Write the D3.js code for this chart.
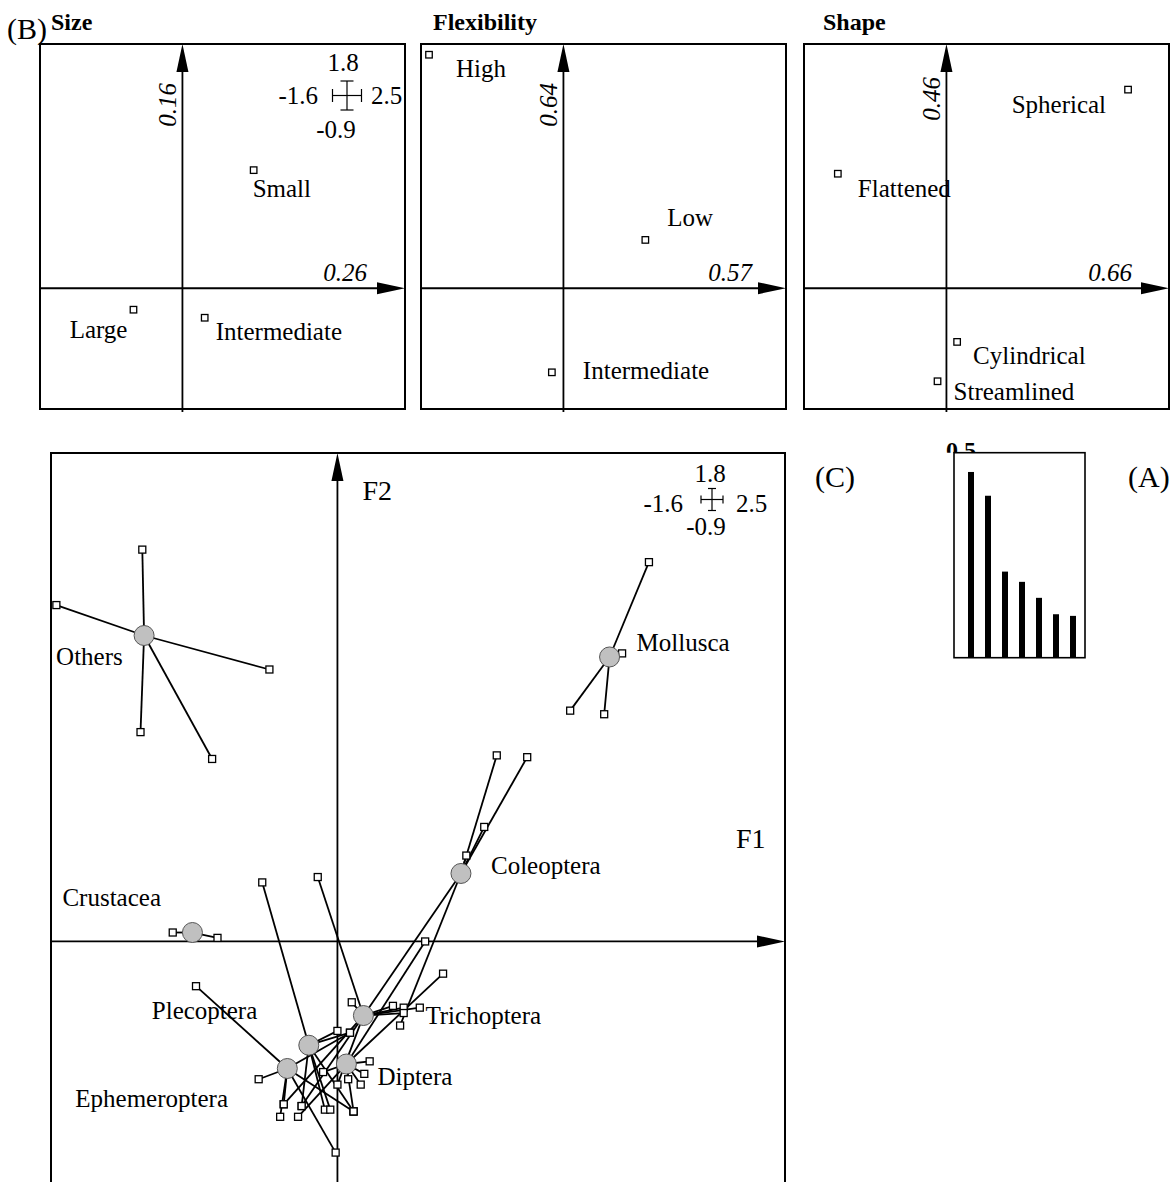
<!DOCTYPE html>
<html>
<head>
<meta charset="utf-8">
<script src="https://cdn.jsdelivr.net/npm/d3@7"></script>
<style>
  body { margin: 0; background: #fff; }
  svg { display: block; }
  text { font-family: "Liberation Serif", "Times New Roman", Times, serif; fill: #000; }
</style>
</head>
<body>
<svg id="fig" width="1176" height="1182"></svg>
<script>
// ---------------------------------------------------------------
// Data
// ---------------------------------------------------------------
// Limits of the factorial maps (F1 horizontal, F2 vertical)
const xLimits = [-1.6, 2.5];
const yLimits = [-1.35, 2.73];
// Range printed around the scale cross
const crossTop = "1.8", crossBottom = "-0.9", crossLeft = "-1.6", crossRight = "2.5";

// (B) trait modalities on F1 x F2
const traitNames = ["Size", "Flexibility", "Shape"];
const traitRatioF1 = ["0.26", "0.57", "0.66"];
const traitRatioF2 = ["0.16", "0.64", "0.46"];

const sizeModalities = ["Small", "Large", "Intermediate"];
const sizeF1 = [0.80, -0.55, 0.25];
const sizeF2 = [1.32, -0.24, -0.33];

const flexModalities = ["High", "Low", "Intermediate"];
const flexF1 = [-1.51, 0.92, -0.13];
const flexF2 = [2.61, 0.54, -0.94];

const shapeModalities = ["Spherical", "Flattened", "Cylindrical", "Streamlined"];
const shapeF1 = [2.04, -1.22, 0.12, -0.10];
const shapeF2 = [2.22, 1.28, -0.60, -1.04];

// (C) taxa grouped by higher taxon: group centres and taxa scores [F1, F2]
const groupNames = ["Others", "Mollusca", "Crustacea", "Coleoptera",
                    "Trichoptera", "Diptera", "Plecoptera", "Ephemeroptera"];
const groupCentreF1 = [-1.08, 1.52, -0.81, 0.69, 0.145, 0.05, -0.16, -0.28];
const groupCentreF2 = [1.71, 1.59, 0.05, 0.38, -0.414, -0.685, -0.58, -0.71];

const taxaOthers = [[-1.09, 2.19], [-1.57, 1.88], [-0.38, 1.52], [-1.10, 1.17], [-0.70, 1.02]];
const taxaMollusca = [[1.74, 2.12], [1.59, 1.61], [1.30, 1.29], [1.49, 1.27]];
const taxaCrustacea = [[-0.92, 0.05], [-0.67, 0.02]];
const taxaColeoptera = [[0.89, 1.04], [1.06, 1.03], [0.82, 0.64], [0.72, 0.48],
                        [0.35, -0.47], [-0.20, -0.92]];
const taxaTrichoptera = [[-0.11, 0.36], [0.08, -0.34], [0.31, -0.36], [0.37, -0.37],
                         [0.37, -0.40], [0.46, -0.37], [0.00, -0.80], [-0.30, -0.91]];
const taxaDiptera = [[0.59, -0.18], [0.49, 0.00], [0.18, -0.67], [0.15, -0.74],
                     [0.06, -0.77], [0.13, -0.80], [-0.08, -0.73], [-0.22, -0.98], [0.09, -0.95]];
const taxaPlecoptera = [[-0.42, 0.33], [0.00, -0.50], [0.07, -0.51], [-0.07, -0.94],
                        [-0.04, -0.94], [0.09, -0.95], [-0.20, -0.92]];
const taxaEphemeroptera = [[-0.79, -0.25], [-0.44, -0.77], [-0.30, -0.91], [-0.32, -0.98],
                           [-0.01, -1.18], [0.07, -0.51], [0.09, -0.95]];

// (A) eigenvalues
const eigenRanks = [1, 2, 3, 4, 5, 6, 7];
const eigenvalues = [0.453, 0.395, 0.210, 0.185, 0.146, 0.106, 0.102];
const eigenMaxLabel = "0.5";

// ---------------------------------------------------------------
// Layout
// ---------------------------------------------------------------
const panelLeft = [40, 421, 804];
const titleLeft = [51, 433, 823];
const panelTop = 44, panelSize = 365;
const ratioF2Offset = [39, 39, 33];   // distance of the vertical ratio text end from the top
const ratioF1Offset = [38, 34, 37];   // distance of the horizontal ratio text end from the right

// label offsets (px) from the marker, and anchor
const modalityLabelOffset = {
  "Size:Small": [-1, 27, "start"], "Size:Large": [-6, 28, "end"], "Size:Intermediate": [11, 22, "start"],
  "Flexibility:High": [27, 22, "start"], "Flexibility:Low": [22, -14, "start"],
  "Flexibility:Intermediate": [31, 7, "start"],
  "Shape:Spherical": [-22, 23, "end"], "Shape:Flattened": [20, 23, "start"],
  "Shape:Cylindrical": [16, 22, "start"], "Shape:Streamlined": [16, 19, "start"]
};
const groupLabelOffset = {
  Others: [-88, 29], Mollusca: [27, -6], Crustacea: [-130, -27], Coleoptera: [30, 1],
  Trichoptera: [62, 8], Diptera: [31, 21], Plecoptera: [-157, -26], Ephemeroptera: [-212, 39]
};

const main = {left: 51, top: 453, width: 734, height: 730};
const bars = {left: 954, top: 452.7, right: 1085, bottom: 657.7};

const svg = d3.select("#fig");
const ARROW_LEN = 28, ARROW_HALF = 6;

// draws the F1/F2 axes with arrowheads and the frame
function drawFrame(g, x, y, box, extendBelow) {
  const x0 = x(0), y0 = y(0);
  g.append("line")
    .attr("x1", box.left).attr("x2", box.right - ARROW_LEN + 2)
    .attr("y1", y0).attr("y2", y0)
    .attr("stroke", "#000").attr("stroke-width", 1.8);
  g.append("line")
    .attr("x1", x0).attr("x2", x0)
    .attr("y1", box.bottom + extendBelow).attr("y2", box.top + ARROW_LEN - 2)
    .attr("stroke", "#000").attr("stroke-width", 1.8);
  g.append("path")
    .attr("d", `M${box.right},${y0}L${box.right - ARROW_LEN},${y0 - ARROW_HALF}L${box.right - ARROW_LEN},${y0 + ARROW_HALF}Z`)
    .attr("fill", "#000");
  g.append("path")
    .attr("d", `M${x0},${box.top}L${x0 - ARROW_HALF},${box.top + ARROW_LEN}L${x0 + ARROW_HALF},${box.top + ARROW_LEN}Z`)
    .attr("fill", "#000");
  g.append("rect")
    .attr("x", box.left).attr("y", box.top)
    .attr("width", box.right - box.left).attr("height", box.bottom - box.top)
    .attr("fill", "none").attr("stroke", "#000").attr("stroke-width", 2);
}

// scale cross showing the ranges of the map
function drawCross(g, cx, cy, half, cap, lab) {
  const segs = [
    [cx - half, cy, cx + half, cy], [cx, cy - half, cx, cy + half],
    [cx - half, cy - cap, cx - half, cy + cap], [cx + half, cy - cap, cx + half, cy + cap],
    [cx - cap, cy - half, cx + cap, cy - half], [cx - cap, cy + half, cx + cap, cy + half]
  ];
  segs.forEach(d => g.append("line").attr("x1", d[0]).attr("y1", d[1]).attr("x2", d[2]).attr("y2", d[3])
    .attr("stroke", "#000").attr("stroke-width", 1.2));
  const fs = 25;
  g.append("text").attr("x", cx + lab.top[0]).attr("y", cy + lab.top[1]).attr("text-anchor", "middle")
    .attr("font-size", fs).text(crossTop);
  g.append("text").attr("x", cx + lab.bottom[0]).attr("y", cy + lab.bottom[1]).attr("text-anchor", "middle")
    .attr("font-size", fs).text(crossBottom);
  g.append("text").attr("x", cx + lab.left[0]).attr("y", cy + lab.left[1]).attr("text-anchor", "end")
    .attr("font-size", fs).text(crossLeft);
  g.append("text").attr("x", cx + lab.right[0]).attr("y", cy + lab.right[1]).attr("text-anchor", "start")
    .attr("font-size", fs).text(crossRight);
}

function squares(g, pts, x, y, size) {
  g.selectAll(null).data(pts).enter().append("rect")
    .attr("x", d => x(d[0]) - size / 2).attr("y", d => y(d[1]) - size / 2)
    .attr("width", size).attr("height", size)
    .attr("fill", "#fff").attr("stroke", "#000").attr("stroke-width", 1.3);
}

// ---------------------------------------------------------------
// (B) trait panels
// ---------------------------------------------------------------
svg.append("text").attr("x", 7).attr("y", 39).attr("font-size", 30).text("(B)");

const traitSets = [
  {labels: sizeModalities, f1: sizeF1, f2: sizeF2},
  {labels: flexModalities, f1: flexF1, f2: flexF2},
  {labels: shapeModalities, f1: shapeF1, f2: shapeF2}
];

traitSets.forEach((t, i) => {
  const left = panelLeft[i];
  const box = {left: left, top: panelTop, right: left + panelSize, bottom: panelTop + panelSize};
  const x = d3.scaleLinear().domain(xLimits).range([box.left, box.right]);
  const y = d3.scaleLinear().domain(yLimits).range([box.bottom, box.top]);
  const g = svg.append("g");

  g.append("text").attr("x", titleLeft[i]).attr("y", 30)
    .attr("font-size", 24).attr("font-weight", "bold").text(traitNames[i]);

  drawFrame(g, x, y, box, 3);

  g.append("text")
    .attr("transform", `translate(${x(0) - 6},${box.top + ratioF2Offset[i]}) rotate(-90)`)
    .attr("text-anchor", "end").attr("font-style", "italic").attr("font-size", 25)
    .text(traitRatioF2[i]);
  g.append("text")
    .attr("x", box.right - ratioF1Offset[i]).attr("y", y(0) - 7)
    .attr("text-anchor", "end").attr("font-style", "italic").attr("font-size", 25)
    .text(traitRatioF1[i]);

  const pts = t.labels.map((lab, k) => [t.f1[k], t.f2[k], lab]);
  squares(g, pts, x, y, 6.5);
  pts.forEach(p => {
    const off = modalityLabelOffset[traitNames[i] + ":" + p[2]];
    g.append("text").attr("x", x(p[0]) + off[0]).attr("y", y(p[1]) + off[1])
      .attr("text-anchor", off[2]).attr("font-size", 25).text(p[2]);
  });

  if (i === 0) drawCross(g, 347, 95.5, 14.5, 6.5,
    {top: [-4, -25], bottom: [-11, 42], left: [-29, 8], right: [24, 8]});
});

// ---------------------------------------------------------------
// (C) taxa map
// ---------------------------------------------------------------
const mbox = {left: main.left, top: main.top, right: main.left + main.width, bottom: main.top + main.height};
const mx = d3.scaleLinear().domain(xLimits).range([mbox.left, mbox.right]);
const my = d3.scaleLinear().domain(yLimits).range([mbox.bottom, mbox.top]);
const mg = svg.append("g");

drawFrame(mg, mx, my, mbox, 0);
mg.append("text").attr("x", mx(0) + 25).attr("y", 500).attr("font-size", 28).text("F2");
mg.append("text").attr("x", 736).attr("y", 848).attr("font-size", 28).text("F1");
drawCross(mg, 712, 499.5, 11, 4,
  {top: [-2, -18], bottom: [-6, 35.5], left: [-29, 12.5], right: [24, 12.5]});

const taxaByGroup = [taxaOthers, taxaMollusca, taxaCrustacea, taxaColeoptera,
                     taxaTrichoptera, taxaDiptera, taxaPlecoptera, taxaEphemeroptera];
const groups = groupNames.map((name, i) => ({
  name, c: [groupCentreF1[i], groupCentreF2[i]], taxa: taxaByGroup[i]
}));

const linkLayer = mg.append("g"), squareLayer = mg.append("g"), centreLayer = mg.append("g");
groups.forEach(gr => {
  linkLayer.selectAll(null).data(gr.taxa).enter().append("line")
    .attr("x1", mx(gr.c[0])).attr("y1", my(gr.c[1]))
    .attr("x2", d => mx(d[0])).attr("y2", d => my(d[1]))
    .attr("stroke", "#000").attr("stroke-width", 1.8);
  squares(squareLayer, gr.taxa, mx, my, 7);
});
centreLayer.selectAll("circle").data(groups).enter().append("circle")
  .attr("cx", d => mx(d.c[0])).attr("cy", d => my(d.c[1])).attr("r", 10)
  .attr("fill", "#c0c0c0").attr("stroke", "#555").attr("stroke-width", 1);
centreLayer.selectAll("text").data(groups).enter().append("text")
  .attr("x", d => mx(d.c[0]) + groupLabelOffset[d.name][0])
  .attr("y", d => my(d.c[1]) + groupLabelOffset[d.name][1])
  .attr("font-size", 25).text(d => d.name);

svg.append("text").attr("x", 815).attr("y", 487).attr("font-size", 30).text("(C)");

// ---------------------------------------------------------------
// (A) eigenvalue bar chart
// ---------------------------------------------------------------
const bg = svg.append("g");
const bx = d3.scalePoint().domain(eigenRanks).range([bars.left + 17, bars.right - 12]);
const by = d3.scaleLinear().domain([0, 0.5]).range([bars.bottom, bars.top]);
svg.append("defs").append("clipPath").attr("id", "aboveBox")
  .append("rect").attr("x", 900).attr("y", 400).attr("width", 200).attr("height", bars.top - 400);
bg.append("text").attr("x", 946).attr("y", 458).attr("font-size", 24).attr("font-weight", "bold")
  .attr("clip-path", "url(#aboveBox)").text(eigenMaxLabel);
bg.append("rect").attr("x", bars.left).attr("y", bars.top)
  .attr("width", bars.right - bars.left).attr("height", bars.bottom - bars.top)
  .attr("fill", "#fff").attr("stroke", "#000").attr("stroke-width", 1.6);
bg.selectAll(".bar").data(eigenvalues).enter().append("rect").attr("class", "bar")
  .attr("x", (d, i) => bx(eigenRanks[i]) - 3).attr("y", d => by(d))
  .attr("width", 6).attr("height", d => by(0) - by(d)).attr("fill", "#000");

svg.append("text").attr("x", 1128).attr("y", 487).attr("font-size", 30).text("(A)");
</script>
</body>
</html>
